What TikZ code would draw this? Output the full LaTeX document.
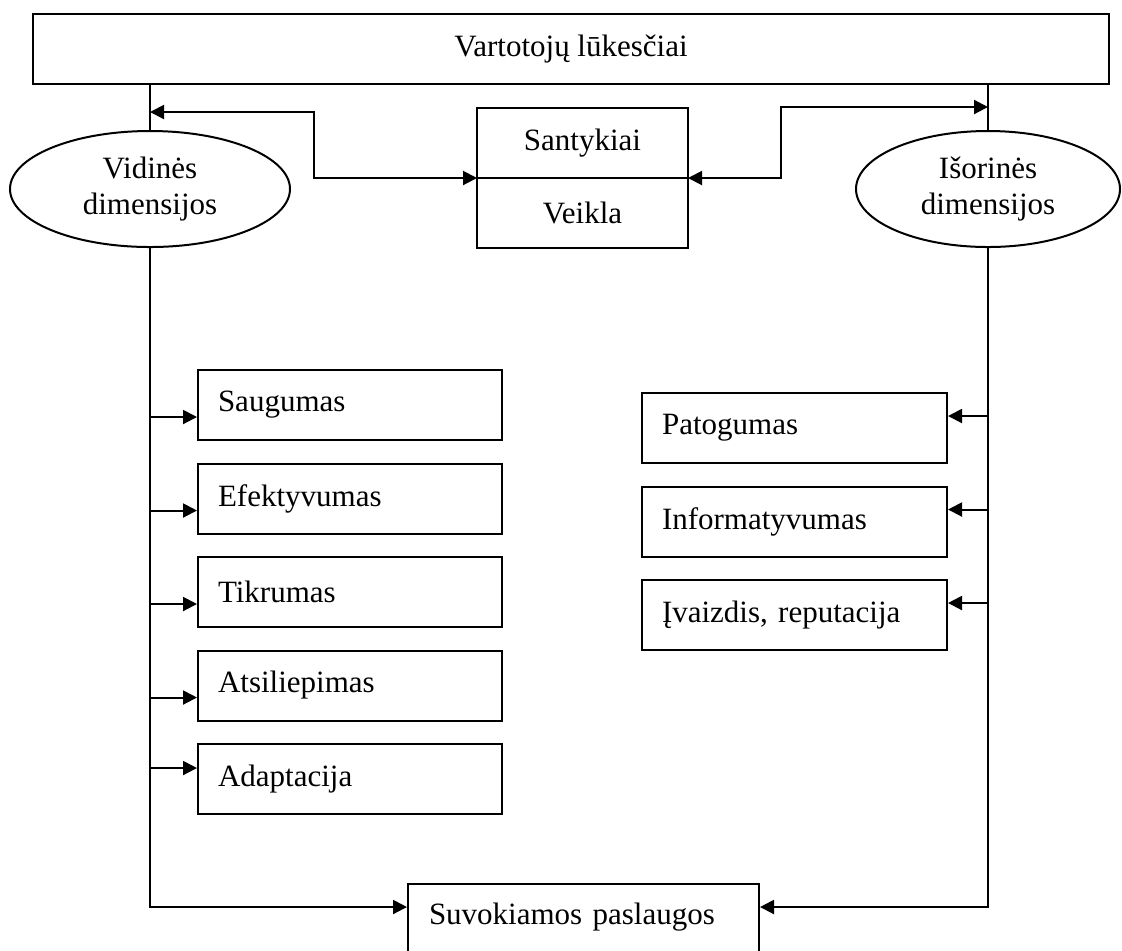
\documentclass[tikz,border=0pt]{standalone}
\usepackage{fontspec}
\setmainfont{Liberation Serif}
\usepackage{tikz}
\usetikzlibrary{positioning, arrows.meta, shapes.geometric}
\newcommand{\diagfont}{\fontsize{15.5pt}{18pt}\selectfont}

\begin{document}
\begin{tikzpicture}[
    x=0.5pt, y=-0.5pt,
    node distance=10.75pt,
    frame/.style={rectangle, draw=black, line width=1pt, minimum height=35pt, inner sep=0pt, outer sep=0pt, align=center, font=\diagfont},
    oval/.style={ellipse, draw=black, line width=1pt, minimum width=140pt, minimum height=58pt, inner sep=0pt, align=center, font=\diagfont},
    item/.style={rectangle, draw=black, line width=1pt, minimum height=35pt, text width=132pt, inner xsep=10pt, align=left, font=\diagfont},
    wire/.style={line width=1pt, draw=black},
    link/.style={-{Triangle[length=7pt, width=7pt]}, line width=1pt, draw=black},
    twoway/.style={{Triangle[length=7pt, width=7pt]}-{Triangle[length=7pt, width=7pt]}, line width=1pt, draw=black}
]
\useasboundingbox (0,0) rectangle (1122,950);
\clip (0,0) rectangle (1122,950);

\node[frame, minimum width=538pt] (lukesciai) at (571,49) {Vartotojų lūkesčiai};
\node[oval] (vidines) at (150,189) {Vidinės\\dimensijos};
\node[oval, minimum width=132pt] (isorines) at (988,189) {Išorinės\\dimensijos};
\node[frame, minimum width=105.5pt] (santykiai) at (582.5,143) {Santykiai};
\node[frame, minimum width=105.5pt, below=0pt of santykiai] (veikla) {Veikla};

\node[item, anchor=north west] (saugumas) at (197,369) {Saugumas};
\node[item, below=of saugumas] (efektyvumas) {Efektyvumas};
\node[item, below=of efektyvumas] (tikrumas) {Tikrumas};
\node[item, below=of tikrumas] (atsiliepimas) {Atsiliepimas};
\node[item, below=of atsiliepimas] (adaptacija) {Adaptacija};

\node[item, text width=132.5pt, anchor=north west] (patogumas) at (641,392) {Patogumas};
\node[item, text width=132.5pt, below=of patogumas] (informatyvumas) {Informatyvumas};
\node[item, text width=132.5pt, below=of informatyvumas] (ivaizdis) {Įvaizdis, reputacija};

\node[item, text width=154.5pt, inner xsep=10.5pt, inner ysep=9pt, text height=11pt, text depth=30pt, anchor=north west] (suvokiamos) at (407,883) {Suvokiamos paslaugos};

\coordinate (lhook) at (314,112);
\coordinate (rhook) at (781,107);

\draw[wire] (vidines.north |- lukesciai.south) -- (vidines.north);
\draw[wire] (isorines.north |- lukesciai.south) -- (isorines.north);
\draw[twoway] (vidines.north |- lhook) -- (lhook) |- (santykiai.south west);
\draw[twoway] (santykiai.south east) -| (rhook) -- (isorines.north |- rhook);

\draw[link] (vidines.south) |- ([yshift=-12pt]suvokiamos.north west);
\draw[link] (isorines.south) |- ([yshift=-12pt]suvokiamos.north east);

\foreach \n/\dy in {saugumas/-6pt, efektyvumas/-6pt, tikrumas/-6pt, atsiliepimas/-6pt, adaptacija/5.5pt} {
    \coordinate (hit) at ([yshift=\dy]\n.west);
    \draw[link] (vidines.south |- hit) -- (hit);
}
\foreach \n in {patogumas, informatyvumas, ivaizdis} {
    \coordinate (hit) at ([yshift=6pt]\n.east);
    \draw[link] (isorines.south |- hit) -- (hit);
}
\end{tikzpicture}
\end{document}
